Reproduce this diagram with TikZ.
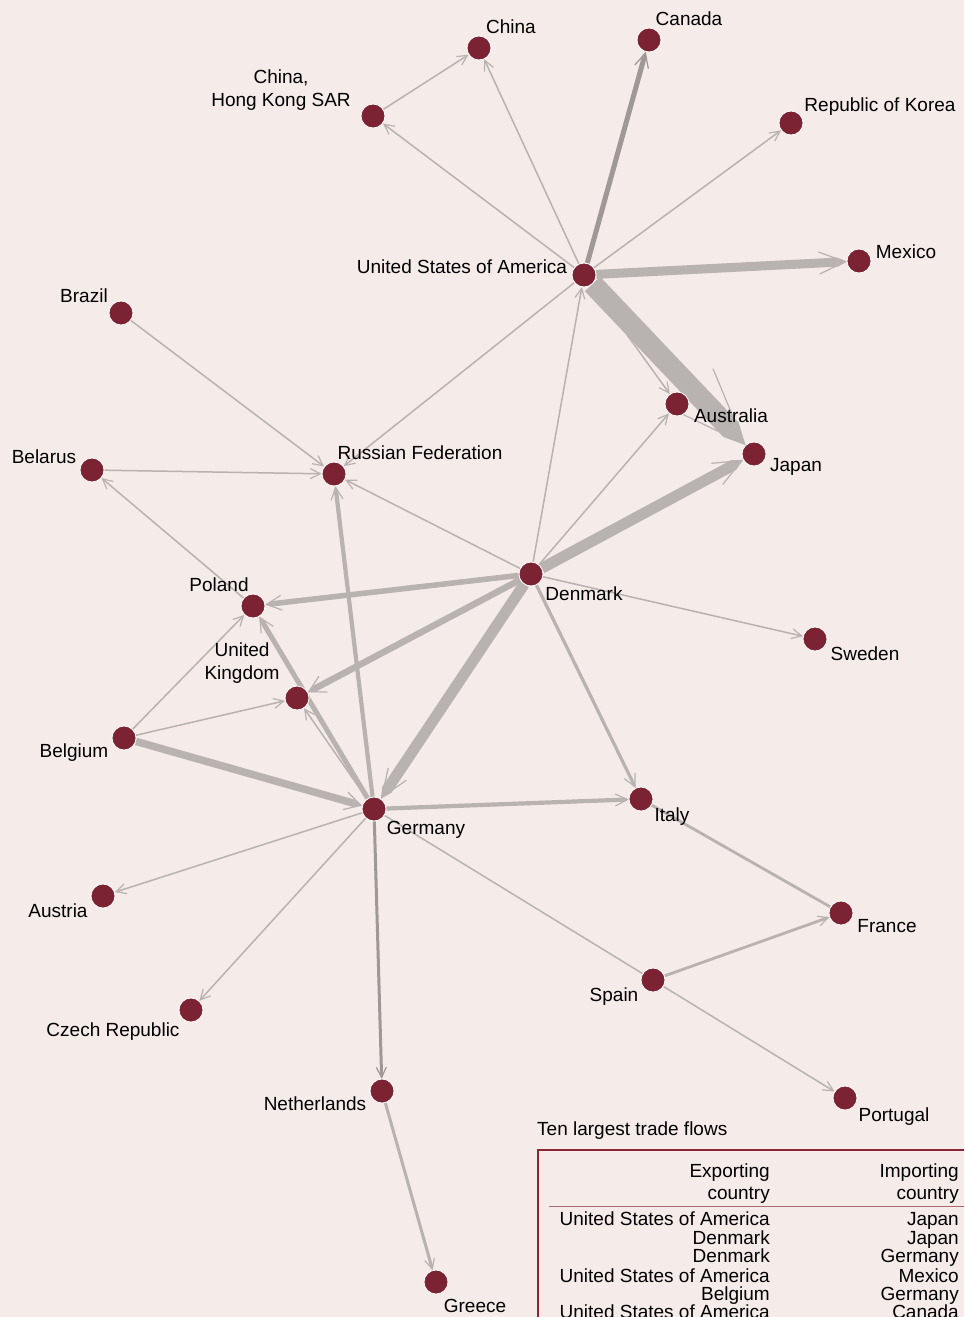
\documentclass[tikz,border=0pt]{standalone}
\usepackage{fontspec}
\setmainfont{Liberation Sans}
\usetikzlibrary{arrows.meta}
\definecolor{bgc}{RGB}{245,235,232}
\definecolor{nodec}{RGB}{123,34,51}
\definecolor{edgec}{RGB}{184,178,176}
\definecolor{edged}{RGB}{158,152,150}
\definecolor{tabc}{RGB}{135,40,55}
\definecolor{rulec}{RGB}{170,105,115}
\pgfdeclarelayer{bg}
\pgfdeclarelayer{edges}
\pgfsetlayers{bg,edges,main}
\tikzset{
  country/.style={circle, fill=nodec, draw=white, line width=0.8pt, minimum size=24pt, inner sep=0pt},
  lbl/.style={font=\fontsize{19}{23}\selectfont, anchor=base, inner sep=0pt},
  lblc/.style={font=\fontsize{19}{23}\selectfont, align=center, inner sep=0pt},
  tflow/.style={draw, color=edgec, line width=1.5pt, -{Straight Barb[line width=1.2pt,length=10pt,width=10pt]}},
  plainedge/.style={draw, color=edgec, line width=#1pt},
  flow/.style n args={3}{draw, color=edgec, line width=#1pt, -{Triangle[line width=0pt,length=#1pt,width=#1pt]}, postaction={draw, line width=1.2pt, -{Straight Barb[line width=1.2pt,length=#2pt,width=#3pt]}}},
  darkedge/.style={color=edged},
}
\begin{document}
\begin{tikzpicture}[x=1pt,y=-1pt]
\useasboundingbox (0,0) rectangle (964,1317);
\begin{pgfonlayer}{bg}
\fill[bgc] (0,0) rectangle (964,1317);
\end{pgfonlayer}
\clip (0,0) rectangle (964,1317);
% countries
\node[country] (china) at (479,48) {};
\node[country] (canada) at (649,40) {};
\node[country] (hk) at (373,116) {};
\node[country] (korea) at (791,123) {};
\node[country] (usa) at (584,275) {};
\node[country] (mexico) at (859,261) {};
\node[country] (brazil) at (121,313) {};
\node[country] (australia) at (677,404) {};
\node[country] (japan) at (754,454) {};
\node[country] (belarus) at (92,470) {};
\node[country] (russia) at (334,474) {};
\node[country] (denmark) at (531,574) {};
\node[country] (poland) at (253,606) {};
\node[country] (sweden) at (815,639) {};
\node[country] (uk) at (297,698) {};
\node[country] (belgium) at (124,738) {};
\node[country] (germany) at (374,809) {};
\node[country] (italy) at (641,799) {};
\node[country] (austria) at (103,896) {};
\node[country] (france) at (841,913) {};
\node[country] (spain) at (653,980) {};
\node[country] (czech) at (191,1010) {};
\node[country] (netherlands) at (382,1091) {};
\node[country] (portugal) at (845,1098) {};
\node[country] (greece) at (436,1282) {};
% labels
\node[lbl] (lchina) at (511,33) {China};
\node[lbl] (lcanada) at (689,25) {Canada};
\node[lblc] (lhk) at (281,90) {China,\\Hong Kong SAR};
\node[lbl] (lkorea) at (880,111) {Republic of Korea};
\node[lbl] (lusa) at (462,273) {United States of America};
\node[lbl] (lmexico) at (906,258) {Mexico};
\node[lbl] (lbrazil) at (84,302) {Brazil};
\node[lbl] (laustralia) at (731,422) {Australia};
\node[lbl] (ljapan) at (796,471) {Japan};
\node[lbl] (lbelarus) at (44,463) {Belarus};
\node[lbl] (lrussia) at (420,459) {Russian Federation};
\node[lbl] (ldenmark) at (584,600) {Denmark};
\node[lbl] (lpoland) at (219,591) {Poland};
\node[lbl] (lsweden) at (865,660) {Sweden};
\node[lblc] (luk) at (242,663) {United\\Kingdom};
\node[lbl] (lbelgium) at (74,757) {Belgium};
\node[lbl] (lgermany) at (426,834) {Germany};
\node[lbl] (litaly) at (672,821) {Italy};
\node[lbl] (laustria) at (58,917) {Austria};
\node[lbl] (lfrance) at (887,932) {France};
\node[lbl] (lspain) at (614,1001) {Spain};
\node[lbl] (lczech) at (113,1036) {Czech Republic};
\node[lbl] (lnetherlands) at (315,1110) {Netherlands};
\node[lbl] (lportugal) at (894,1121) {Portugal};
\node[lbl] (lgreece) at (475,1312) {Greece};
% flows
\begin{pgfonlayer}{edges}
\draw[tflow] (hk) -- (china);
\draw[tflow] (usa) -- (hk);
\draw[tflow] (usa) -- (china);
\draw[tflow] (usa) -- (korea);
\draw[tflow] (usa) -- (australia);
\draw[tflow] (usa) -- (russia);
\draw[tflow] (denmark) -- (usa);
\draw[tflow] (brazil) -- (russia);
\draw[tflow] (belarus) -- (russia);
\draw[tflow] (poland) -- (belarus);
\draw[tflow] (denmark) -- (russia);
\draw[tflow] (denmark) -- (australia);
\draw[tflow] (denmark) -- (sweden);
\draw[tflow] (belgium) -- (poland);
\draw[tflow] (belgium) -- (uk);
\draw[tflow] (germany) -- (uk);
\draw[tflow] (germany) -- (austria);
\draw[tflow] (germany) -- (czech);
\draw[tflow] (spain) -- (portugal);
\draw[plainedge=1.5] (germany) -- (spain);
\draw[plainedge=2.8] (italy) -- (france);
\draw[flow={2.8}{10}{10}] (spain) -- (france);
\draw[flow={3}{10}{10}] (netherlands) -- (greece);
\draw[flow={3}{10}{10}, darkedge] (germany) -- (netherlands);
\draw[flow={3.2}{12}{12}] (denmark) -- (italy);
\draw[flow={4.2}{12}{12}] (germany) -- (italy);
\draw[flow={4.2}{12}{12}] (germany) -- (russia);
\draw[flow={5}{14}{14}] (germany) -- (poland);
\draw[flow={5.5}{15}{15}] (denmark) -- (poland);
\draw[flow={6.5}{16}{18}] (denmark) -- (uk);
\draw[flow={7.5}{16}{18}] (belgium) -- (germany);
\draw[flow={5}{14}{14}, darkedge] (usa) -- (canada);
\draw[flow={9}{26}{22}] (usa) -- (mexico);
\draw[flow={11}{28}{24}] (denmark) -- (japan);
\draw[flow={11}{28}{22}] (denmark) -- (germany);
\draw[flow={21}{76}{58}] (usa) -- (japan);
\end{pgfonlayer}
% table
\node[lbl, anchor=base west] (ttl) at (537,1135) {Ten largest trade flows};
\node[draw=tabc, line width=1.5pt, minimum width=440pt, minimum height=200pt, anchor=north west, inner sep=0pt] (tbox) at (537,1149) {};
\draw[rulec, line width=0.9pt] (549,1206) -- (975,1206);
\node[lbl, anchor=base east] (h1a) at (770,1177) {Exporting};
\node[lbl, anchor=base east] (h1b) at (770,1199) {country};
\node[lbl, anchor=base east] (h2a) at (959,1177) {Importing};
\node[lbl, anchor=base east] (h2b) at (959,1199) {country};
\node[lbl, anchor=base east] (r1a) at (770,1225) {United States of America};
\node[lbl, anchor=base east] (r1b) at (959,1225) {Japan};
\node[lbl, anchor=base east] (r2a) at (770,1244) {Denmark};
\node[lbl, anchor=base east] (r2b) at (959,1244) {Japan};
\node[lbl, anchor=base east] (r3a) at (770,1262) {Denmark};
\node[lbl, anchor=base east] (r3b) at (959,1262) {Germany};
\node[lbl, anchor=base east] (r4a) at (770,1282) {United States of America};
\node[lbl, anchor=base east] (r4b) at (959,1282) {Mexico};
\node[lbl, anchor=base east] (r5a) at (770,1300) {Belgium};
\node[lbl, anchor=base east] (r5b) at (959,1300) {Germany};
\node[lbl, anchor=base east] (r6a) at (770,1318) {United States of America};
\node[lbl, anchor=base east] (r6b) at (959,1318) {Canada};
\end{tikzpicture}
\end{document}
